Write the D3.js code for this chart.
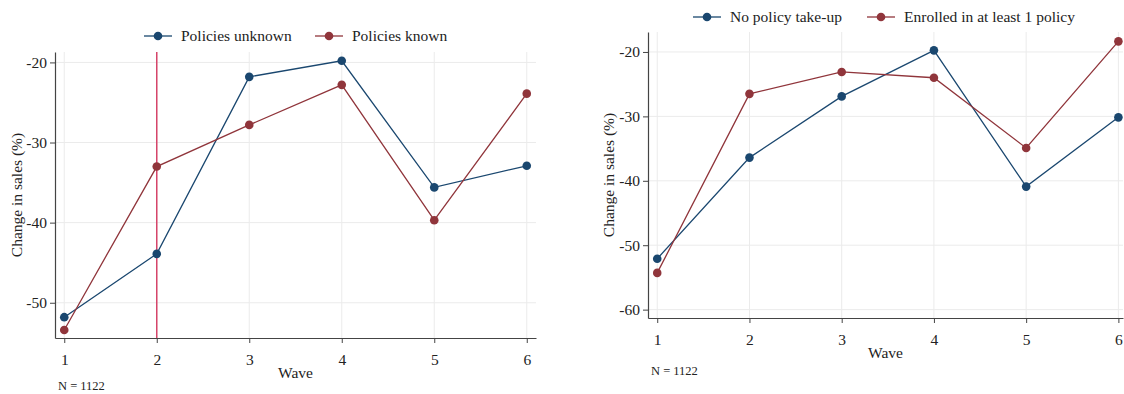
<!DOCTYPE html>
<html>
<head>
<meta charset="utf-8">
<script src="https://cdn.jsdelivr.net/npm/d3@7"></script>
<style>
  body { margin: 0; background: #fff; }
</style>
</head>
<body>
<svg id="chart" width="1124" height="394"></svg>
<script>
/* ==== Data ==== */
var waves = [1, 2, 3, 4, 5, 6];

// left panel
var policiesUnknown = [-51.8, -43.9, -21.8, -19.8, -35.6, -32.9];
var policiesKnown = [-53.4, -33.0, -27.8, -22.8, -39.7, -23.9];
var leftTicks = [-50, -40, -30, -20];
var leftLabels = ["Policies unknown", "Policies known"];
var markerWave = 2;

// right panel
var noTakeUp = [-52.1, -36.4, -26.9, -19.75, -40.9, -30.15];
var enrolled = [-54.3, -26.5, -23.1, -24.0, -34.9, -18.35];
var rightTicks = [-60, -50, -40, -30, -20];
var rightLabels = ["No policy take-up", "Enrolled in at least 1 policy"];

var yTitle = "Change in sales (%)";
var xTitle = "Wave";
var note = "N = 1122";

var BLUE = "#1a476f";
var RED = "#90353b";
var VLINE = "#d6456a";
var FONT = "Liberation Serif";
var FS = 15.5;

var svg = d3.select("#chart")
  .attr("font-family", FONT);

function txt(sel, size) {
  return sel.attr("font-family", FONT).attr("font-size", size || FS).attr("fill", "#222");
}

/* ==== Panels ==== */
var panels = [
  {
    left: 55, right: 536, top: 52, bottom: 338,
    domain: [-54.4, -18.7], xDomain: [0.9, 6.1],
    ticks: leftTicks, series: [policiesUnknown, policiesKnown], labels: leftLabels,
    legendY: 36, legendX: [144, 315],
    yTitleX: 17, xTitleY: 378, noteY: 390, vline: markerWave
  },
  {
    left: 648, right: 1123, top: 32, bottom: 318,
    domain: [-61.3, -16.9], xDomain: [0.9, 6.05],
    ticks: rightTicks, series: [noTakeUp, enrolled], labels: rightLabels,
    legendY: 17, legendX: [693, 867],
    yTitleX: 609, xTitleY: 358, noteY: 375, vline: null
  }
];

panels.forEach(function(p) {
  var x = d3.scaleLinear().domain(p.xDomain).range([p.left, p.right]);
  var y = d3.scaleLinear().domain(p.domain).range([p.bottom, p.top]);
  var g = svg.append("g");

  // grid
  var grid = g.append("g").attr("stroke", "#ebebeb").attr("stroke-width", 1);
  grid.selectAll(".h").data(p.ticks).enter().append("line")
    .attr("x1", p.left).attr("x2", p.right)
    .attr("y1", d => y(d)).attr("y2", d => y(d));
  grid.selectAll(".v").data(waves).enter().append("line")
    .attr("x1", d => x(d)).attr("x2", d => x(d))
    .attr("y1", p.top).attr("y2", p.bottom);

  // axes
  var yAxis = g.append("g")
    .attr("transform", "translate(" + p.left + ",0)")
    .call(d3.axisLeft(y).tickValues(p.ticks).tickSize(5).tickSizeOuter(0).tickFormat(d => String(d)));

  var xAxis = g.append("g")
    .attr("transform", "translate(0," + p.bottom + ")")
    .call(d3.axisBottom(x).tickValues(waves).tickSize(5).tickSizeOuter(0).tickFormat(d => String(d)));
  xAxis.selectAll("text").attr("dy", "1.2em");

  [yAxis, xAxis].forEach(function(a) {
    a.attr("font-family", FONT).attr("font-size", FS);
    a.select(".domain").attr("stroke", "#444").attr("stroke-width", 1.2);
    a.selectAll(".tick line").attr("stroke", "#444");
    txt(a.selectAll("text"));
  });

  // reference line
  if (p.vline !== null) {
    g.append("line")
      .attr("x1", x(p.vline)).attr("x2", x(p.vline))
      .attr("y1", p.top).attr("y2", p.bottom)
      .attr("stroke", VLINE).attr("stroke-width", 1.5);
  }

  // series
  var colors = [BLUE, RED];
  var line = d3.line().x((d, i) => x(waves[i])).y(d => y(d));
  p.series.forEach(function(s, k) {
    g.append("path").datum(s).attr("d", line)
      .attr("fill", "none").attr("stroke", colors[k]).attr("stroke-width", 1.3);
    g.selectAll(".pt" + k).data(s).enter().append("circle")
      .attr("cx", (d, i) => x(waves[i])).attr("cy", d => y(d))
      .attr("r", 4.3).attr("fill", colors[k]);
  });

  // legend
  p.labels.forEach(function(lab, k) {
    var lx = p.legendX[k];
    var lg = g.append("g").attr("transform", "translate(" + lx + "," + p.legendY + ")");
    lg.append("line").attr("x1", 0).attr("x2", 28).attr("y1", 0).attr("y2", 0)
      .attr("stroke", colors[k]).attr("stroke-width", 1.3);
    lg.append("circle").attr("cx", 14).attr("cy", 0).attr("r", 4.3).attr("fill", colors[k]);
    txt(lg.append("text").attr("x", 37).attr("y", 0).attr("dy", "0.35em")).text(lab);
  });

  // titles
  txt(g.append("text")
    .attr("transform", "translate(" + p.yTitleX + "," + ((p.top + p.bottom) / 2) + ") rotate(-90)")
    .attr("text-anchor", "middle").attr("dy", "0.35em")).text(yTitle);
  txt(g.append("text")
    .attr("x", (p.left + p.right) / 2).attr("y", p.xTitleY)
    .attr("text-anchor", "middle")).text(xTitle);
  txt(g.append("text")
    .attr("x", p.left + 3).attr("y", p.noteY), 12.5).text(note);
});
</script>
</body>
</html>
